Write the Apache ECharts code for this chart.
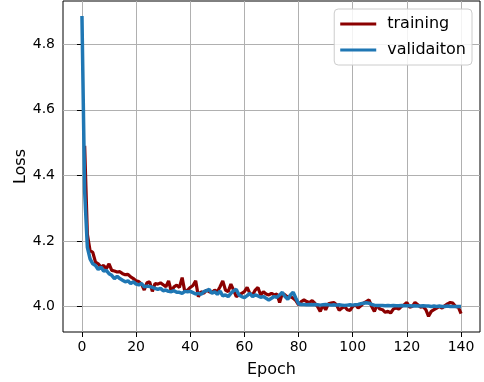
<!DOCTYPE html>
<html>
<head>
<meta charset="utf-8">
<script src="https://cdn.jsdelivr.net/npm/echarts@6/dist/echarts.min.js"></script>
<style>html,body{margin:0;padding:0;background:#fff}#c{width:484px;height:382px}</style>
</head>
<body>
<div id="c"></div>
<script>
// Epochs 0..140
const epochs = Array.from({length: 141}, (_, i) => i);

// training loss, epochs 1..140 (no value at epoch 0)
const training = [null,
  4.49, 4.22, 4.17, 4.165, 4.135, 4.13, 4.12, 4.125, 4.115, 4.13,
  4.11, 4.108, 4.105, 4.106, 4.10, 4.097, 4.098, 4.09, 4.085, 4.078,
  4.076, 4.068, 4.05, 4.072, 4.075, 4.046, 4.07, 4.068, 4.072, 4.066,
  4.06, 4.078, 4.045, 4.06, 4.065, 4.058, 4.088, 4.045, 4.05, 4.058,
  4.064, 4.078, 4.03, 4.045, 4.04, 4.05, 4.045, 4.042, 4.05, 4.045,
  4.06, 4.078, 4.05, 4.045, 4.068, 4.05, 4.03, 4.035, 4.04, 4.045,
  4.058, 4.04, 4.035, 4.05, 4.058, 4.035, 4.045, 4.038, 4.035, 4.04,
  4.035, 4.038, 4.012, 4.04, 4.035, 4.028, 4.03, 4.025, 4.018, 4.005,
  4.015, 4.02, 4.015, 4.012, 4.018, 4.01, 4.0, 3.985, 4.005, 3.99,
  4.008, 4.01, 4.012, 4.005, 3.988, 3.995, 4.0, 3.99, 3.988, 4.0,
  4.005, 3.995, 4.002, 4.01, 4.015, 4.02, 4.0, 3.985, 4.005, 3.992,
  3.99, 3.982, 3.985, 3.98, 3.992, 3.995, 3.992, 4.0, 4.005, 4.012,
  3.998, 4.0, 4.012, 4.005, 3.998, 4.0, 3.99, 3.97, 3.985, 3.99,
  3.995, 4.0, 3.995, 4.002, 4.008, 4.012, 4.01, 4.0, 3.998, 3.978
];

// validation loss, epochs 0..140
const validation = [
  4.886,
  4.35, 4.18, 4.145, 4.13, 4.125, 4.113, 4.12, 4.108, 4.11, 4.10,
  4.095, 4.085, 4.092, 4.085, 4.08, 4.075, 4.078, 4.07, 4.075, 4.068,
  4.066, 4.07, 4.06, 4.062, 4.061, 4.058, 4.055, 4.052, 4.055, 4.048,
  4.05, 4.046, 4.045, 4.048, 4.043, 4.043, 4.04, 4.046, 4.045, 4.046,
  4.042, 4.038, 4.04, 4.037, 4.045, 4.048, 4.052, 4.04, 4.045, 4.037,
  4.047, 4.032, 4.035, 4.03, 4.04, 4.048, 4.052, 4.035, 4.03, 4.027,
  4.033, 4.04, 4.03, 4.035, 4.032, 4.028, 4.03, 4.025, 4.02, 4.025,
  4.03, 4.028, 4.035, 4.043, 4.03, 4.022, 4.035, 4.043, 4.025, 4.008,
  4.006, 4.006, 4.005, 4.006, 4.005, 4.006, 4.005, 4.004, 4.005, 4.006,
  4.005, 4.004, 4.005, 4.004, 4.005, 4.004, 4.003, 4.004, 4.005, 4.004,
  4.005, 4.006, 4.008, 4.01, 4.011, 4.01, 4.006, 4.004, 4.003, 4.003,
  4.003, 4.002, 4.003, 4.002, 4.003, 4.002, 4.002, 4.003, 4.002, 4.002,
  4.002, 4.001, 4.002, 4.001, 4.001, 4.002, 4.001, 4.001, 4.0, 4.001,
  4.0, 4.001, 4.0, 4.0, 4.001, 4.0, 4.0, 4.0, 4.0, 4.0
];

const xTicks = [0, 20, 40, 60, 80, 100, 120, 140];
const yTicks = [4.0, 4.2, 4.4, 4.6, 4.8];

const chart = echarts.init(document.getElementById('c'), null, {renderer: 'canvas'});
const font = 'DejaVu Sans';
chart.setOption({
  animation: false,
  backgroundColor: '#fff',
  grid: {left: 63, right: 4, top: 1, bottom: 50, show: true, borderColor: '#000', borderWidth: 1,
    containLabel: false, outerBoundsMode: 'none'},
  legend: {
    right: 12, top: 9, orient: 'vertical',
    backgroundColor: 'rgba(255,255,255,0.85)',
    borderColor: '#cccccc', borderWidth: 1, borderRadius: 4,
    padding: [7, 6, 7, 6], itemGap: 10,
    itemWidth: 36, itemHeight: 3, icon: 'rect',
    textStyle: {fontFamily: font, fontSize: 16, color: '#000', padding: [0, 0, 0, 6]},
    data: ['training', 'validaiton']
  },
  xAxis: {
    type: 'value', min: -7, max: 147,
    name: 'Epoch', nameLocation: 'middle', nameGap: 30, nameMoveOverlap: false,
    nameTextStyle: {fontFamily: font, fontSize: 16, color: '#000'},
    axisLine: {show: false},
    axisTick: {show: true, length: 5, inside: false, lineStyle: {color: '#000'}, customValues: xTicks},
    axisLabel: {fontFamily: font, fontSize: 14, color: '#000', margin: 8, customValues: xTicks},
    splitLine: {show: true, lineStyle: {color: '#b0b0b0', width: 1}}
  },
  yAxis: {
    type: 'value', min: 3.922, max: 4.932,
    name: 'Loss', nameLocation: 'middle', nameGap: 34, nameRotate: 90, nameMoveOverlap: false,
    nameTextStyle: {fontFamily: font, fontSize: 16, color: '#000'},
    axisLine: {show: false},
    axisTick: {show: true, length: 5, lineStyle: {color: '#000'}, customValues: yTicks},
    axisLabel: {fontFamily: font, fontSize: 14, color: '#000', margin: 8, customValues: yTicks,
      formatter: v => v.toFixed(1)},
    splitLine: {show: true, lineStyle: {color: '#b0b0b0', width: 1}}
  },
  series: [
    {name: 'training', type: 'line', symbol: 'none', color: '#8b0000',
      lineStyle: {width: 3.2, color: '#8b0000'},
      data: epochs.map((e, i) => [e, training[i]])},
    {name: 'validaiton', type: 'line', symbol: 'none', color: '#1f77b4',
      lineStyle: {width: 3.5, color: '#1f77b4'},
      data: epochs.map((e, i) => [e, validation[i]])}
  ]
});
</script>
</body>
</html>
